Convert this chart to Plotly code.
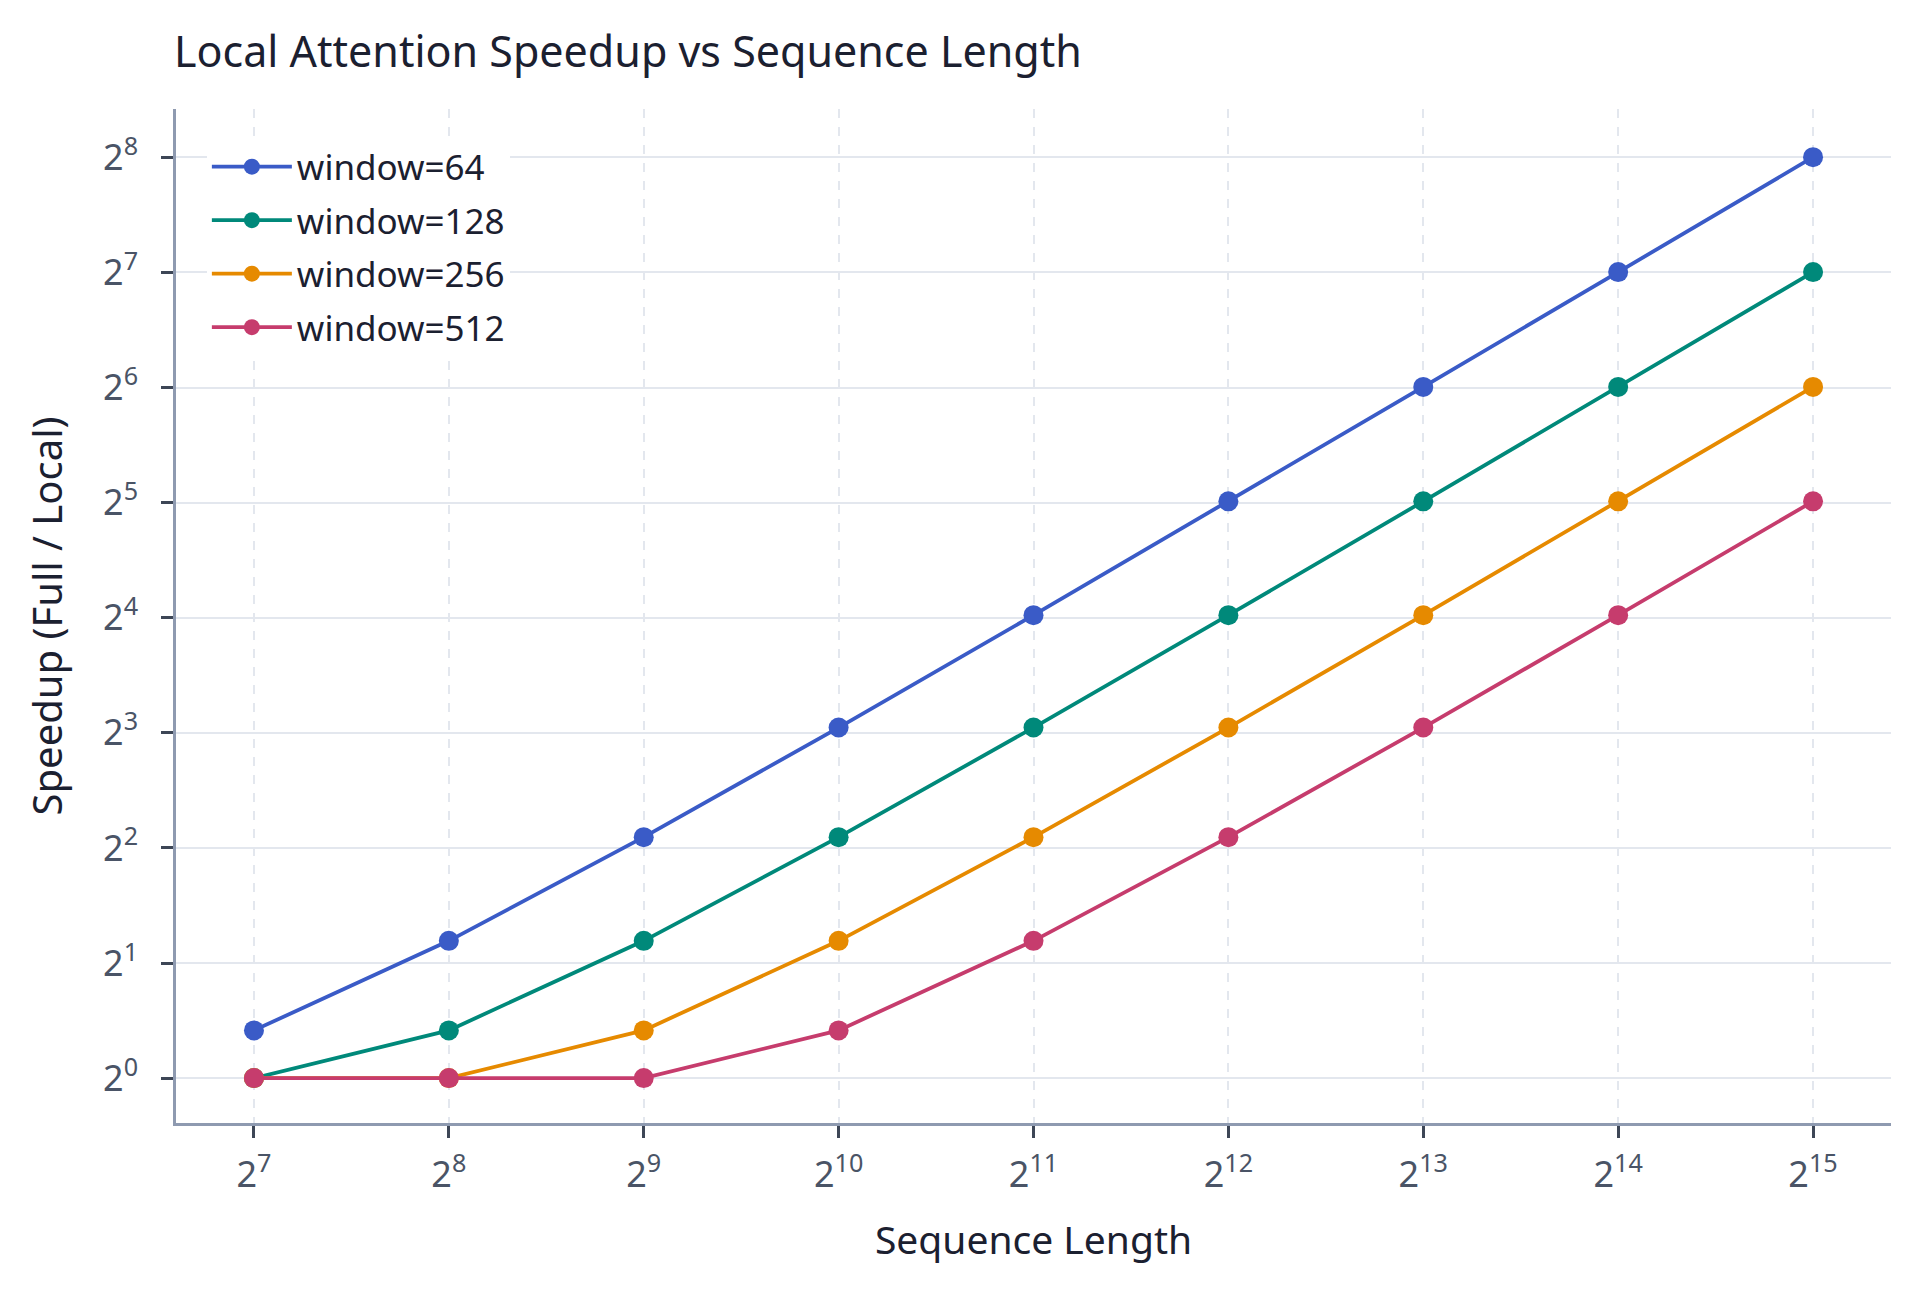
import plotly.graph_objects as go

seq_len = [128, 256, 512, 1024, 2048, 4096, 8192, 16384, 32768]
windows = ["window=64", "window=128", "window=256", "window=512"]
speedup_w64 = [1.333, 2.286, 4.267, 8.258, 16.25, 32.25, 64.25, 128.25, 256.25]
speedup_w128 = [1.0, 1.333, 2.286, 4.267, 8.258, 16.25, 32.25, 64.25, 128.25]
speedup_w256 = [1.0, 1.0, 1.333, 2.286, 4.267, 8.258, 16.25, 32.25, 64.25]
speedup_w512 = [1.0, 1.0, 1.0, 1.333, 2.286, 4.267, 8.258, 16.25, 32.25]
series = [speedup_w64, speedup_w128, speedup_w256, speedup_w512]
colors = ["#3A5BC7", "#00897A", "#E68A00", "#C63C6D"]

x_tickvals = [2 ** k for k in range(7, 16)]
x_ticktext = [f"2<sup>{k}</sup>" for k in range(7, 16)]
y_tickvals = [2 ** k for k in range(0, 9)]
y_ticktext = [f"2<sup>{k}</sup>" for k in range(0, 9)]

FONT = "Noto Sans"
LOG2 = 0.30102999566

fig = go.Figure()
for name, vals, col in zip(windows, series, colors):
    fig.add_trace(go.Scatter(
        x=seq_len, y=vals, name=name, mode="lines+markers",
        legendgroup=name,
        line=dict(color=col, width=3.8),
        marker=dict(color=col, size=20),
    ))

fig.update_layout(
    width=1920, height=1292,
    paper_bgcolor="white", plot_bgcolor="white",
    font=dict(family=FONT, color="#1B2030"),
    margin=dict(l=168, r=37, t=101, b=177),
    title=dict(text="Local Attention Speedup vs Sequence Length",
               x=166 / 1920, xref="container", xanchor="left",
               y=1 - 44 / 1292, yref="container", yanchor="middle",
               font=dict(size=43, color="#1B2030", family=FONT)),
    legend=dict(x=0.018, y=0.972, xanchor="left", yanchor="top",
                bgcolor="white", borderwidth=0,
                font=dict(size=35, color="#1B2030", family=FONT),
                itemwidth=80, itemsizing="trace",
                tracegroupgap=5, traceorder="grouped"),
    showlegend=True,
)

fig.update_xaxes(
    type="log", range=[6.6 * LOG2, 15.4 * LOG2],
    tickvals=x_tickvals, ticktext=x_ticktext,
    tickfont=dict(size=36, color="#4A5466", family=FONT),
    ticks="outside", ticklen=12, tickwidth=2.5, tickcolor="#3D4656",
    ticklabelstandoff=6,
    showline=True, linecolor="#8E9AB0", linewidth=2.5, mirror=False,
    showgrid=True, gridcolor="#E3E7EE", gridwidth=2, griddash="dash",
    zeroline=False,
    title=dict(text="Sequence Length", font=dict(size=39, color="#1B2030", family=FONT), standoff=30),
)
fig.update_yaxes(
    type="log", range=[-0.39 * LOG2, 8.42 * LOG2],
    tickvals=y_tickvals, ticktext=y_ticktext,
    tickfont=dict(size=36, color="#4A5466", family=FONT),
    ticks="outside", ticklen=12, tickwidth=2.5, tickcolor="#3D4656",
    ticklabelstandoff=16,
    showline=True, linecolor="#8E9AB0", linewidth=2.5, mirror=False,
    showgrid=True, gridcolor="#E3E7EE", gridwidth=2,
    zeroline=False,
    title=dict(text="Speedup (Full / Local)", font=dict(size=40, color="#1B2030", family=FONT), standoff=29),
)

fig.write_html("out.html")
